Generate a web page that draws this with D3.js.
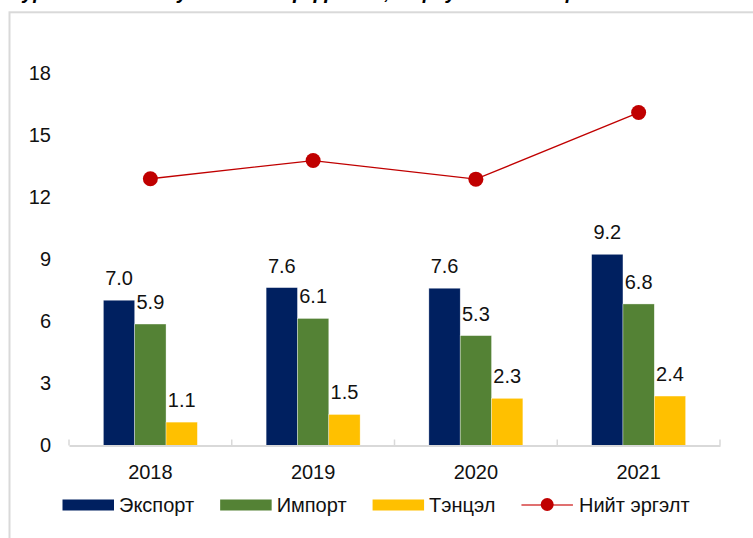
<!DOCTYPE html>
<html>
<head>
<meta charset="utf-8">
<script src="https://cdn.jsdelivr.net/npm/d3@7"></script>
<style>
  body { margin: 0; background: #fff; }
  svg { display: block; font-family: 'Liberation Sans', Arial, sans-serif; }
</style>
</head>
<body>
<svg id="chart" width="753" height="538"></svg>
<script>
const TITLE = 'Зураг 3. Гадаад худалдааны үзүүлэлт, тэрбум ам.доллар';
const YEARS = ['2018', '2019', '2020', '2021'];
const EXPORTS = [7.02, 7.63, 7.6, 9.24];
const IMPORTS = [5.87, 6.14, 5.31, 6.84];
const BALANCE = [1.13, 1.5, 2.28, 2.39];
const TOTAL = [12.89, 13.77, 12.87, 16.09];
const Y_TICKS = [0, 3, 6, 9, 12, 15, 18];
const BAR_NAMES = ['Экспорт', 'Импорт', 'Тэнцэл'];
const LINE_NAME = 'Нийт эргэлт';

const BAR_COLORS = ['#002060', '#548235', '#FFC000'];
const LINE_COLOR = '#C00000';
const AXIS_COLOR = '#d9d9d9';
const TEXT_COLOR = '#111';
const FONT_SIZE = 20;

const svg = d3.select('#chart');

// caption at the very top, mostly cut off in the source picture
let title = svg.append('text')
  .attr('x', 10)
  .attr('y', -1)
  .attr('font-size', 22)
  .attr('font-style', 'italic')
  .attr('font-weight', 'bold')
  .attr('fill', '#000')
  .text(TITLE);
let tw = title.node().getComputedTextLength();
title.attr('font-size', 22 * 568 / tw);

// frame round the chart, running off the right and bottom edges
svg.append('rect')
  .attr('x', 9.5)
  .attr('y', 12.3)
  .attr('width', 800)
  .attr('height', 600)
  .attr('fill', 'none')
  .attr('stroke', AXIS_COLOR)
  .attr('stroke-width', 2);

let x = d3.scaleBand().domain(YEARS).range([69, 720]);
let inner = d3.scaleBand().domain(d3.range(BAR_NAMES.length)).range([-47, 47]);
let y = d3.scaleLinear().domain([0, 18]).range([445.5, 73]);
let cx = (year) => x(year) + x.bandwidth() / 2;

let series = [EXPORTS, IMPORTS, BALANCE];
let bars = [];
series.forEach((values, s) => {
  YEARS.forEach((year, i) => {
    bars.push({ s: s, year: year, value: values[i] });
  });
});

// y axis labels only
let yAxis = svg.append('g')
  .attr('transform', 'translate(51,0)')
  .call(d3.axisLeft(y).tickValues(Y_TICKS).tickSize(0).tickPadding(0));
yAxis.select('.domain').remove();
yAxis.selectAll('text')
  .attr('font-size', FONT_SIZE)
  .attr('font-family', null)
  .attr('fill', TEXT_COLOR)
  .attr('dy', '0.32em');

// bars
svg.append('g').selectAll('rect')
  .data(bars)
  .enter().append('rect')
  .attr('x', (d) => cx(d.year) + inner(d.s))
  .attr('width', inner.bandwidth())
  .attr('y', (d) => y(d.value))
  .attr('height', (d) => y(0) - y(d.value))
  .attr('fill', (d) => BAR_COLORS[d.s])
  .attr('stroke', 'rgba(255,255,255,0.6)')
  .attr('stroke-width', 0.6);

// bar value labels
svg.append('g').selectAll('text')
  .data(bars)
  .enter().append('text')
  .attr('x', (d) => cx(d.year) + inner(d.s) + inner.bandwidth() / 2)
  .attr('y', (d) => y(d.value) - 15)
  .attr('text-anchor', 'middle')
  .attr('font-size', FONT_SIZE)
  .attr('fill', TEXT_COLOR)
  .text((d) => d.value.toFixed(1));

// x axis: baseline, category labels, boundary ticks
let xAxis = svg.append('g')
  .attr('transform', 'translate(0,' + y(0) + ')')
  .call(d3.axisBottom(x).tickSize(0).tickPadding(19).tickSizeOuter(0));
xAxis.select('.domain')
  .attr('stroke', AXIS_COLOR)
  .attr('stroke-width', 2);
xAxis.selectAll('text')
  .attr('font-size', FONT_SIZE)
  .attr('font-family', null)
  .attr('fill', TEXT_COLOR);

let bounds = YEARS.map((year) => x(year)).concat([x.range()[1]]);
svg.append('g').selectAll('line')
  .data(bounds)
  .enter().append('line')
  .attr('x1', (d) => d)
  .attr('x2', (d) => d)
  .attr('y1', y(0) - 6)
  .attr('y2', y(0))
  .attr('stroke', AXIS_COLOR)
  .attr('stroke-width', 1.5);

// total turnover line
let line = d3.line()
  .x((d, i) => cx(YEARS[i]))
  .y((d) => y(d));
svg.append('path')
  .datum(TOTAL)
  .attr('d', line)
  .attr('fill', 'none')
  .attr('stroke', LINE_COLOR)
  .attr('stroke-width', 1.3);
svg.append('g').selectAll('circle')
  .data(TOTAL)
  .enter().append('circle')
  .attr('cx', (d, i) => cx(YEARS[i]))
  .attr('cy', (d) => y(d))
  .attr('r', 7.5)
  .attr('fill', LINE_COLOR);

// legend
let legend = svg.append('g').attr('transform', 'translate(0,505)');
let lx = 62.5;
BAR_NAMES.forEach((name, i) => {
  legend.append('rect')
    .attr('x', lx)
    .attr('y', -5.5)
    .attr('width', 51.5)
    .attr('height', 11)
    .attr('fill', BAR_COLORS[i]);
  let t = legend.append('text')
    .attr('x', lx + 56.5)
    .attr('y', 7)
    .attr('font-size', FONT_SIZE)
    .attr('fill', TEXT_COLOR)
    .text(name);
  lx += 56.5 + t.node().getComputedTextLength() + 26;
});
legend.append('line')
  .attr('x1', lx)
  .attr('x2', lx + 51.5)
  .attr('y1', 0)
  .attr('y2', 0)
  .attr('stroke', '#e07070')
  .attr('stroke-width', 2);
legend.append('circle')
  .attr('cx', lx + 25.75)
  .attr('cy', -0.5)
  .attr('r', 6.5)
  .attr('fill', LINE_COLOR);
legend.append('text')
  .attr('x', lx + 57.5)
  .attr('y', 7)
  .attr('font-size', FONT_SIZE)
  .attr('fill', TEXT_COLOR)
  .text(LINE_NAME);
</script>
</body>
</html>
